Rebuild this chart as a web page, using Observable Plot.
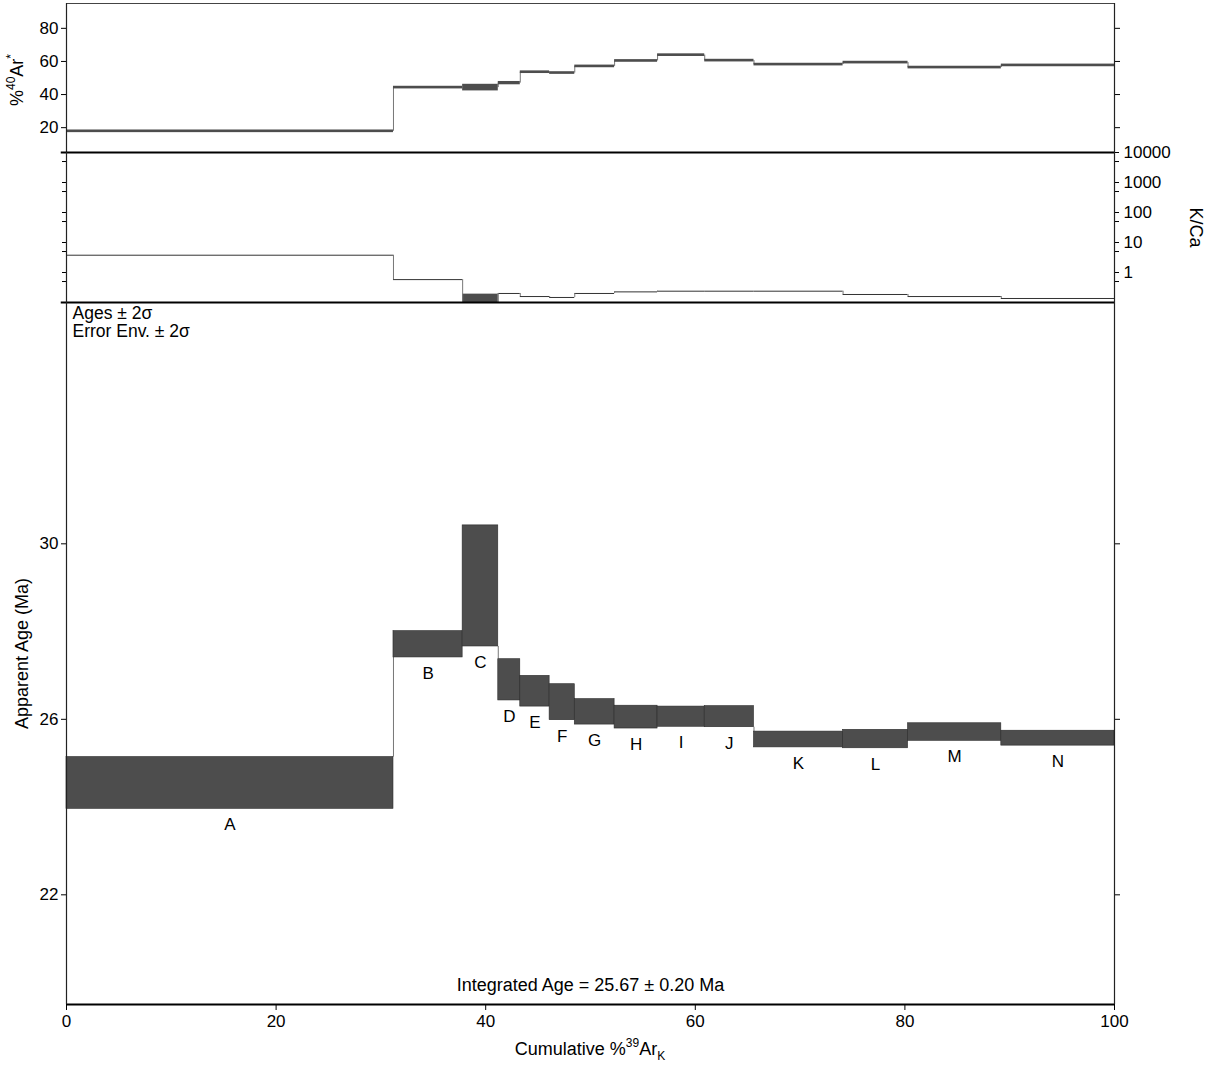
<!DOCTYPE html>
<html><head><meta charset="utf-8">
<script src="https://cdn.jsdelivr.net/npm/d3@7"></script>
<script src="https://cdn.jsdelivr.net/npm/@observablehq/plot@0.6"></script>
<style>
body{margin:0;background:#fff;font-family:"Liberation Sans",Arial,sans-serif;}
#chart{position:relative;width:1218px;height:1069px;}
#chart svg{position:absolute;left:0;overflow:visible;}
</style></head><body><div id="chart"></div>
<script>
// ---- data ----
const steps    = ["A","B","C","D","E","F","G","H","I","J","K","L","M","N"];
const cumStart = [0, 31.2, 37.8, 41.2, 43.3, 46.1, 48.5, 52.3, 56.4, 60.9, 65.6, 74.1, 80.3, 89.2];
const cumEnd   = [31.2, 37.8, 41.2, 43.3, 46.1, 48.5, 52.3, 56.4, 60.9, 65.6, 74.1, 80.3, 89.2, 100];
const ages     = [24.55, 27.71, 29.04, 26.90, 26.64, 26.39, 26.17, 26.05, 26.06, 26.06, 25.54, 25.55, 25.71, 25.57];
const ageErr   = [0.59, 0.30, 1.38, 0.47, 0.35, 0.41, 0.29, 0.26, 0.23, 0.24, 0.18, 0.21, 0.20, 0.17];
const arStar   = [17.8, 44.2, 44.2, 46.9, 53.5, 53.0, 57.0, 60.3, 63.8, 60.5, 58.1, 59.3, 56.3, 57.6];
const arErr    = [0.8, 0.8, 2.0, 1.0, 0.8, 0.8, 0.8, 0.8, 0.8, 0.8, 0.8, 0.8, 0.8, 0.8];
const kca      = [3.77, 0.58, 0.10, 0.20, 0.158, 0.147, 0.20, 0.226, 0.238, 0.238, 0.238, 0.185, 0.158, 0.136];
const kcaErr   = [0, 0, 0.09, 0, 0, 0, 0, 0, 0, 0, 0, 0, 0, 0];
const xTicks   = [0, 20, 40, 60, 80, 100];
const arTicks  = [20, 40, 60, 80];
const kcaTicks = [1, 10, 100, 1000, 10000];
const kcaMinor = [0.5, 5, 50, 500, 5000];
const ageTicks = [22, 26, 30];
const integratedAge = "Integrated Age = 25.67 ± 0.20 Ma";
const envText = "Ages ± 2σ\nError Env. ± 2σ";

const rows = steps.map((s, i) => ({step: s, x1: cumStart[i], x2: cumEnd[i], age: ages[i], err: ageErr[i],
  ar: arStar[i], arErr: arErr[i], kca: kca[i], kcaErr: kcaErr[i]}));
const conn = rows.slice(1).map((d, i) => ({x: d.x1, prev: rows[i], cur: d}));

const W = 1218, ML = 66, MR = 104;
const FONT = "'Liberation Sans', Arial, sans-serif";
const BOX = "#4d4d4d";
const baseStyle = {background: "transparent", overflow: "visible", fontFamily: FONT, fontSize: "17px", color: "#000"};
const chart = document.getElementById("chart");

function addRich(svg, x, y, rotate, parts, size) {
  const small = Math.round(size * 0.68);
  const t = d3.select(svg).append("text")
    .attr("transform", `translate(${x},${y})` + (rotate ? ` rotate(${rotate})` : ""))
    .attr("text-anchor", "middle").attr("font-size", size).attr("fill", "#000")
    .attr("font-family", FONT);
  let shift = 0;
  for (const [s, kind] of parts) {
    const target = kind === "sup" ? -8 : kind === "sub" ? 5 : 0;
    t.append("tspan").attr("dy", target - shift).attr("font-size", kind ? small : size).text(s);
    shift = target;
  }
}

// ---- top panel: %40Ar* ----
const topPlot = Plot.plot({
  width: W, height: 152, marginLeft: ML, marginRight: MR, marginTop: 3, marginBottom: 0,
  style: baseStyle,
  x: {domain: [0, 100], axis: null},
  y: {domain: [5, 95]},
  marks: [
    Plot.axisY({anchor: "left", ticks: arTicks, tickSize: 5, tickPadding: 3, label: null}),
    Plot.axisY({anchor: "right", ticks: arTicks, tickSize: 5, tickFormat: () => "", label: null}),
    Plot.ruleX(conn, {x: "x", y1: d => d.prev.ar, y2: d => d.cur.ar, stroke: "#777", strokeWidth: 1}),
    Plot.rect(rows, {x1: "x1", x2: "x2", y1: d => d.ar - d.arErr, y2: d => d.ar + d.arErr, fill: BOX}),
    Plot.ruleY([95], {stroke: "#444", strokeWidth: 1}),
    Plot.ruleX([0, 100], {stroke: "#222", strokeWidth: 1.2})
  ]
});
topPlot.style.top = "0px";
chart.appendChild(topPlot);
addRich(topPlot, 23, 80, -90, [["%", null], ["40", "sup"], ["Ar", null], ["*", "sup"]], 18);

// ---- middle panel: K/Ca ----
const midPlot = Plot.plot({
  width: W, height: 150, marginLeft: ML, marginRight: MR, marginTop: 0, marginBottom: 0,
  style: baseStyle,
  x: {domain: [0, 100], axis: null},
  y: {type: "log", domain: [0.1, 10000]},
  marks: [
    Plot.axisY({anchor: "left", ticks: kcaTicks, tickSize: 4, tickFormat: () => "", label: null}),
    Plot.axisY({anchor: "left", ticks: kcaMinor, tickSize: 4, tickFormat: () => "", label: null}),
    Plot.axisY({anchor: "right", ticks: kcaTicks, tickSize: 4, tickPadding: 5, tickFormat: d => String(d), label: null}),
    Plot.axisY({anchor: "right", ticks: kcaMinor, tickSize: 4, tickFormat: () => "", label: null}),
    Plot.rect(rows.filter(d => d.kcaErr > 0), {x1: "x1", x2: "x2", y1: d => Math.max(0.1, d.kca - d.kcaErr), y2: d => d.kca + d.kcaErr, fill: BOX}),
    Plot.ruleY(rows, {x1: "x1", x2: "x2", y: "kca", stroke: "#333", strokeWidth: 1}),
    Plot.ruleX(conn, {x: "x", y1: d => d.prev.kca, y2: d => d.cur.kca, stroke: "#777", strokeWidth: 1}),
    Plot.ruleY([10000, 0.1], {x1: -0.5, x2: 100, stroke: "#000", strokeWidth: 2}),
    Plot.ruleX([0, 100], {stroke: "#222", strokeWidth: 1.2}),
    Plot.text(["K/Ca"], {frameAnchor: "right", dx: 81, rotate: 90, textAnchor: "middle", fontSize: 18, fill: "#000"})
  ]
});
midPlot.style.top = "152px";
chart.appendChild(midPlot);

// ---- bottom panel: apparent age spectrum ----
const botPlot = Plot.plot({
  width: W, height: 767, marginLeft: ML, marginRight: MR, marginTop: 0, marginBottom: 65,
  style: baseStyle,
  x: {domain: [0, 100]},
  y: {domain: [19.5, 35.5]},
  marks: [
    Plot.axisY({anchor: "left", ticks: ageTicks, tickSize: 5, tickPadding: 3, label: null}),
    Plot.axisY({anchor: "right", ticks: ageTicks, tickSize: 5, tickFormat: () => "", label: null}),
    Plot.axisX({anchor: "bottom", ticks: xTicks, tickSize: 6, tickPadding: 4, label: null}),
    Plot.ruleX(conn.filter(c => c.cur.age - c.cur.err > c.prev.age + c.prev.err || c.cur.age + c.cur.err < c.prev.age - c.prev.err), {
      x: "x",
      y1: d => d.cur.age > d.prev.age ? d.prev.age + d.prev.err : d.prev.age - d.prev.err,
      y2: d => d.cur.age > d.prev.age ? d.cur.age - d.cur.err : d.cur.age + d.cur.err,
      stroke: "#777", strokeWidth: 1}),
    Plot.rect(rows, {x1: "x1", x2: "x2", y1: d => d.age - d.err, y2: d => d.age + d.err, fill: BOX, stroke: "#2a2a2a", strokeWidth: 0.6}),
    Plot.text(rows, {x: d => (d.x1 + d.x2) / 2, y: d => d.age - d.err, text: "step", dy: 16, fontSize: 17, fill: "#000"}),
    Plot.text([envText], {frameAnchor: "top-left", dx: 6, dy: 3, textAnchor: "start", lineHeight: 1.05, fontSize: 17.5, fill: "#000"}),
    Plot.text([integratedAge], {frameAnchor: "bottom", dy: -14, fontSize: 18, fill: "#000"}),
    Plot.text(["Apparent Age (Ma)"], {frameAnchor: "left", dx: -44, rotate: -90, textAnchor: "middle", fontSize: 18, fill: "#000"}),
    Plot.ruleY([19.5], {stroke: "#000", strokeWidth: 2}),
    Plot.ruleX([0, 100], {stroke: "#222", strokeWidth: 1.2})
  ]
});
botPlot.style.top = "302px";
chart.appendChild(botPlot);
addRich(botPlot, 590, 753, 0, [["Cumulative %", null], ["39", "sup"], ["Ar", null], ["K", "sub"]], 18);
</script>
</body></html>
